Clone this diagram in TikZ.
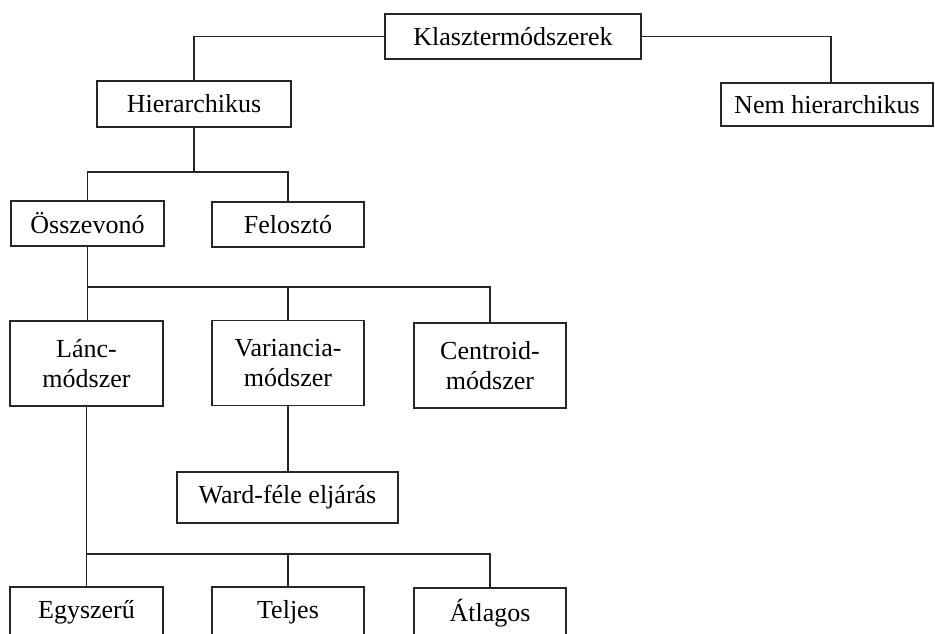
\documentclass[tikz,border=0pt]{standalone}
\usepackage{fontspec}
\setmainfont{Liberation Serif}
\begin{document}
\begin{tikzpicture}[x=1pt,y=1pt,
    box/.style={draw, line width=1.5pt, black!85, text=black, align=center, inner sep=0pt,
        font=\fontsize{26}{30}\selectfont},
    conn/.style={line width=1.5pt, black!85}]
    \clip (0,0) rectangle (935,-633);
    % levels
    \node[box, minimum width=256, minimum height=45] (klaszter) at (513,-36.5) {Klasztermódszerek};
    \node[box, minimum width=194, minimum height=46] (hier) at (194,-104) {Hierarchikus};
    \node[box, minimum width=212, minimum height=43] (nemhier) at (827,-104.5) {Nem hierarchikus};
    \node[box, minimum width=153, minimum height=45] (osszevono) at (87.5,-223.5) {Összevonó};
    \node[box, minimum width=152, minimum height=45] (feloszto) at (288,-224.5) {Felosztó};
    \node[box, minimum width=153, minimum height=85] (lanc) at (86.5,-363.5) {Lánc-\\módszer};
    \node[box, minimum width=152, minimum height=85] (variancia) at (288,-363) {Variancia-\\módszer};
    \node[box, minimum width=152, minimum height=85] (centroid) at (490,-365.5) {Centroid-\\módszer};
    \node[box, minimum width=221, minimum height=51] (ward) at (287.5,-497.5) {Ward-féle eljárás};
    \node[box, minimum width=153, minimum height=50] (egyszeru) at (86.5,-612) {Egyszerű};
    \node[box, minimum width=152, minimum height=50] (teljes) at (288,-612) {Teljes};
    \node[box, minimum width=152, minimum height=50] (atlagos) at (490,-613) {Átlagos};
    % connectors
    \draw[conn] (klaszter.west) -| (hier.north);
    \draw[conn] (klaszter.east) -| ([xshift=4pt]nemhier.north);
    \draw[conn] (hier.south) -- ++(0,-44) coordinate (hb);
    \draw[conn] (osszevono.north) |- (hb) -| (feloszto.north);
    \draw[conn] (osszevono.south) -- ++(0,-40) coordinate (ob) -| (centroid.north);
    \draw[conn] (ob) -| (variancia.north);
    \draw[conn] (ob) -- (ob |- lanc.north);
    \draw[conn] (variancia.south) -- (variancia.south |- ward.north);
    \draw[conn] (lanc.south) -- ++(0,-147) coordinate (lb) -| (atlagos.north);
    \draw[conn] (lb) -| (teljes.north);
    \draw[conn] (lb) -- (lb |- egyszeru.north);
\end{tikzpicture}
\end{document}
